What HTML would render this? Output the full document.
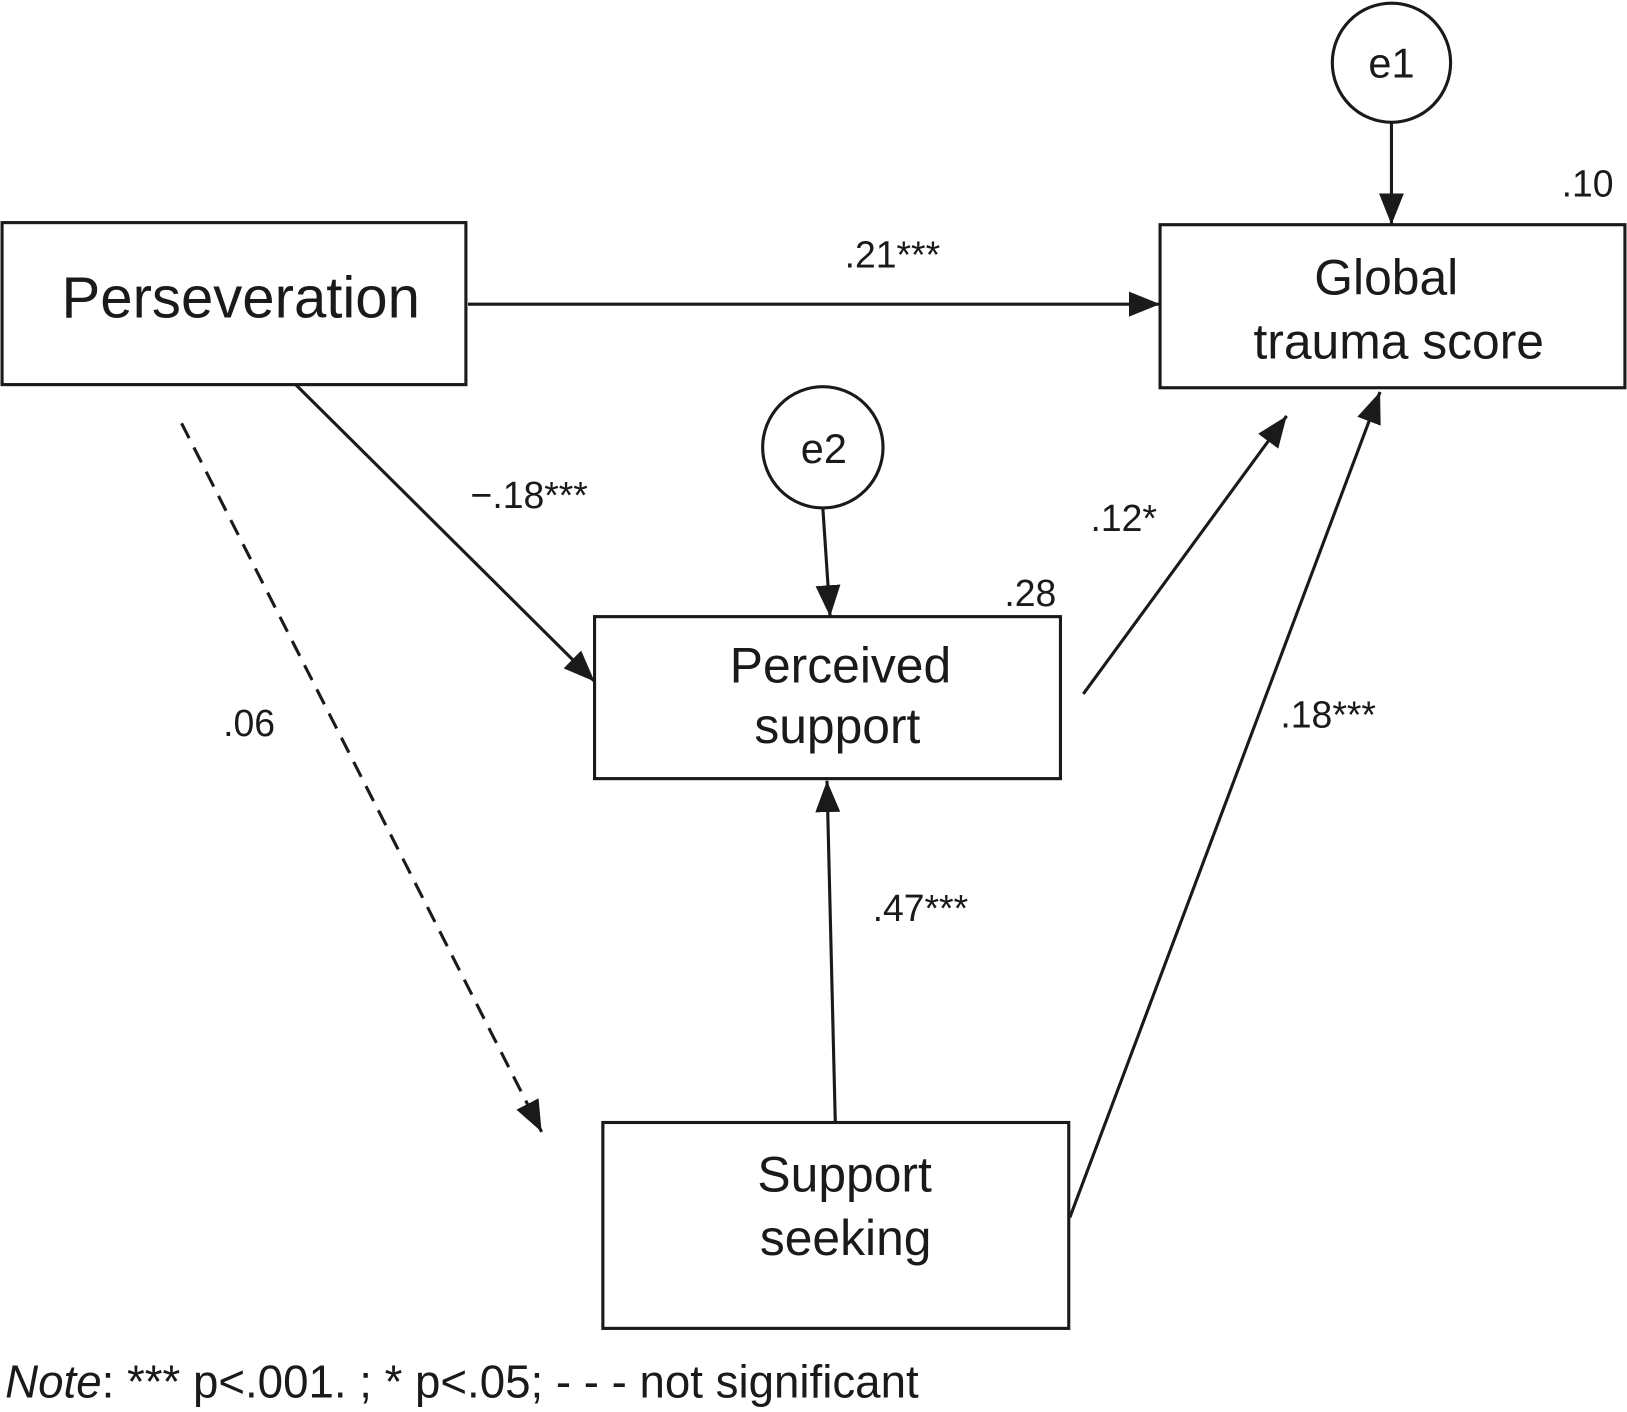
<!DOCTYPE html>
<html><head><style>html,body{margin:0;padding:0;background:#fff;}svg{display:block}</style></head>
<body>
<svg width="1627" height="1412" viewBox="0 0 1568 1351" preserveAspectRatio="none" xmlns="http://www.w3.org/2000/svg" font-family="Liberation Sans, Arial, sans-serif" fill="#1a1a1a">
<defs>
<marker id="a" viewBox="0 0 10 10" refX="10" refY="5" markerWidth="10" markerHeight="10" markerUnits="userSpaceOnUse" orient="auto">
</marker>
<marker id="h" viewBox="0 0 30 24" refX="30" refY="12" markerWidth="30" markerHeight="24" markerUnits="userSpaceOnUse" orient="auto"><path d="M0,0 L30,12 L0,24 Z" fill="#1a1a1a"/></marker>
</defs>
<g stroke="#1a1a1a" stroke-width="3" fill="none">
<rect x="2" y="213" width="447" height="155"/>
<rect x="1118" y="215" width="448" height="156"/>
<rect x="573" y="590" width="449" height="155"/>
<rect x="581" y="1074" width="449" height="197"/>
<circle cx="1341" cy="60" r="57"/>
<circle cx="793" cy="428" r="58"/>
<line x1="1341" y1="117" x2="1341" y2="215" marker-end="url(#h)"/>
<line x1="793" y1="486" x2="800" y2="590" marker-end="url(#h)"/>
<line x1="451" y1="291" x2="1118" y2="291" marker-end="url(#h)"/>
<line x1="285" y1="368" x2="573" y2="652" marker-end="url(#h)"/>
<line x1="175" y1="405" x2="522" y2="1083" stroke-dasharray="16,10" marker-end="url(#h)"/>
<line x1="1044" y1="664" x2="1240" y2="398" marker-end="url(#h)"/>
<line x1="1031" y1="1165" x2="1330" y2="375" marker-end="url(#h)"/>
<line x1="805" y1="1074" x2="797" y2="747" marker-end="url(#h)"/>
</g>
<g font-size="56" text-anchor="middle"><text x="232" y="304">Perseveration</text></g>
<g font-size="48" text-anchor="middle">
<text x="1336" y="282">Global</text>
<text x="1348" y="343">trauma score</text>
<text x="810" y="653">Perceived</text>
<text x="807" y="711">support</text>
<text x="814" y="1140">Support</text>
<text x="815" y="1201">seeking</text>
</g>
<g font-size="40" text-anchor="middle">
<text x="1341" y="74">e1</text>
<text x="794" y="443">e2</text>
</g>
<g font-size="36" text-anchor="middle">
<text x="1530" y="188">.10</text>
<text x="860" y="256">.21***</text>
<text x="993" y="580">.28</text>
<text x="510" y="486">−.18***</text>
<text x="240" y="704">.06</text>
<text x="1083" y="508">.12*</text>
<text x="1280" y="696">.18***</text>
<text x="887" y="881">.47***</text>
</g>
<text x="5" y="1337" font-size="44"><tspan font-style="italic">Note</tspan>: *** p&lt;.001. ; * p&lt;.05;  - - - not significant</text>
</svg>
</body></html>
